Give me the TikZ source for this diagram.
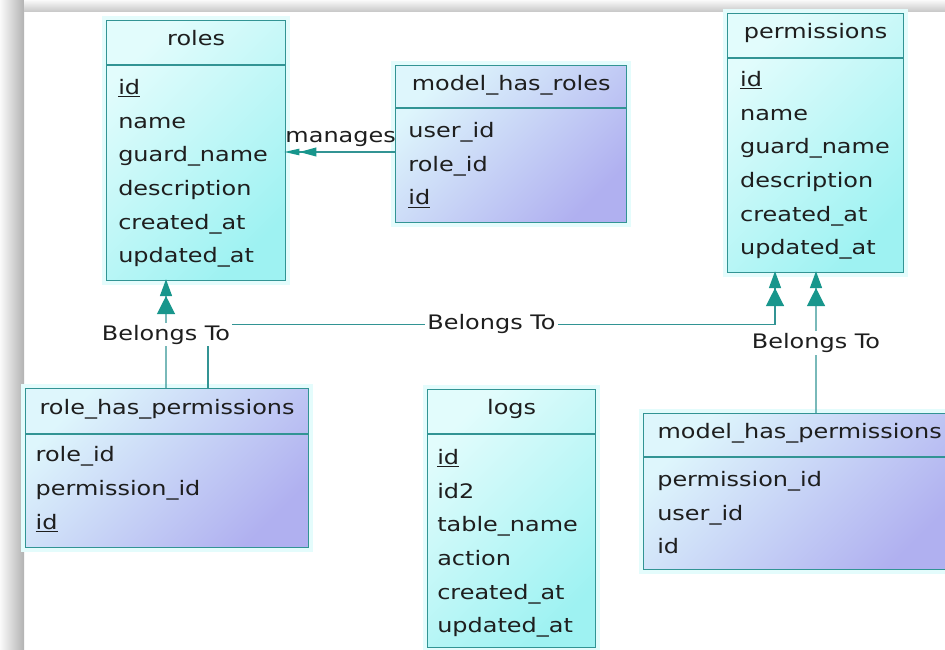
\documentclass[tikz,border=0pt]{standalone}
\usepackage{fontspec}
\usepackage{tikz}
\usepackage{xcolor}
\usetikzlibrary{arrows.meta, positioning, calc}

\newfontfamily\erfont[FakeStretch=1.2]{DejaVu Sans}
\newcommand{\ertext}{\erfont\fontsize{14.2pt}{23.97pt}\selectfont}

\definecolor{erline}{RGB}{50,148,148}
\definecolor{erarrow}{RGB}{24,150,140}
\definecolor{entA}{RGB}{226,252,252}
\definecolor{entB}{RGB}{158,242,242}
\definecolor{lnkA}{RGB}{222,246,252}
\definecolor{lnkB}{RGB}{176,176,240}
\definecolor{ertxt}{RGB}{30,30,30}
\definecolor{glow}{RGB}{228,252,252}

\tikzset{
  erbox/.style={draw=erline, line width=0.9pt, anchor=north west, inner sep=0pt,
      preaction={draw=glow, line width=6pt}},
  entity/.style={erbox, top color=entA, bottom color=entB, shading angle=45},
  assoc/.style={erbox, top color=lnkA, bottom color=lnkB, shading angle=45},
  sepline/.style={draw=erline, line width=0.9pt},
  tblhead/.style={font=\ertext, text=ertxt, text height=1.6ex, text depth=.45ex, inner sep=0pt},
  fields/.style={font=\ertext, text=ertxt, align=left, anchor=north west, inner sep=0pt},
  rel/.style={draw=erline, line width=0.9pt},
  tomany/.style={-{Triangle[length=0.45cm,width=0.45cm,color=erarrow]
      Triangle[length=0.42cm,width=0.3cm,sep=-0.05cm,color=erarrow]}},
  tomanyh/.style={-{Triangle[length=0.42cm,width=0.22cm,color=erarrow]
      Triangle[length=0.38cm,width=0.16cm,sep=-0.05cm,color=erarrow]}},
  lbl/.style={font=\ertext, text=ertxt, fill=white, inner sep=1.5pt}
}

\begin{document}
\begin{tikzpicture}
\useasboundingbox (0,0) rectangle (23.625,16.225);
\clip (0,0) rectangle (23.625,16.225);
\fill[white] (0,0) rectangle (23.625,16.225);

% window frame
\shade[left color=gray!4, right color=gray!60] (0,0) rectangle (0.6,16.225);
\shade[top color=gray!4, bottom color=gray!45] (0.6,15.925) rectangle (23.625,16.225);

% roles
\node[entity, minimum width=4.475cm, minimum height=6.5cm] (roles) at (2.65,15.725) {};
\draw[sepline] ($(roles.north west)+(0,-1.125)$) -- ($(roles.north east)+(0,-1.125)$);
\node[tblhead] (roles-t) at ($(roles.north)+(0,-0.5625)$) {roles};
\node[fields] (roles-f) at ($(roles.north west)+(0.3,-1.475)$)
    {\underline{id}\\name\\guard\_name\\description\\created\_at\\updated\_at};

% model_has_roles
\node[assoc, minimum width=5.775cm, minimum height=3.925cm] (mhr) at (9.875,14.6) {};
\draw[sepline] ($(mhr.north west)+(0,-1.075)$) -- ($(mhr.north east)+(0,-1.075)$);
\node[tblhead] (mhr-t) at ($(mhr.north)+(0,-0.54)$) {model\_has\_roles};
\node[fields] (mhr-f) at ($(mhr.north west)+(0.33,-1.425)$)
    {user\_id\\role\_id\\\underline{id}};

% permissions
\node[entity, minimum width=4.4cm, minimum height=6.475cm] (perms) at (18.175,15.9) {};
\draw[sepline] ($(perms.north west)+(0,-1.125)$) -- ($(perms.north east)+(0,-1.125)$);
\node[tblhead] (perms-t) at ($(perms.north)+(0,-0.5625)$) {permissions};
\node[fields] (perms-f) at ($(perms.north west)+(0.32,-1.45)$)
    {\underline{id}\\name\\guard\_name\\description\\created\_at\\updated\_at};

% role_has_permissions
\node[assoc, minimum width=7.075cm, minimum height=3.975cm] (rhp) at (0.625,6.525) {};
\draw[sepline] ($(rhp.north west)+(0,-1.15)$) -- ($(rhp.north east)+(0,-1.15)$);
\node[tblhead] (rhp-t) at ($(rhp.north)+(0,-0.575)$) {role\_has\_permissions};
\node[fields] (rhp-f) at ($(rhp.north west)+(0.26,-1.46)$)
    {role\_id\\permission\_id\\\underline{id}};

% logs
\node[entity, minimum width=4.2cm, minimum height=6.45cm] (logs) at (10.675,6.5) {};
\draw[sepline] ($(logs.north west)+(0,-1.125)$) -- ($(logs.north east)+(0,-1.125)$);
\node[tblhead] (logs-t) at ($(logs.north)+(0,-0.5625)$) {logs};
\node[fields] (logs-f) at ($(logs.north west)+(0.25,-1.5)$)
    {\underline{id}\\id2\\table\_name\\action\\created\_at\\updated\_at};

% model_has_permissions
\node[assoc, minimum width=7.8cm, minimum height=3.9cm] (mhp) at (16.075,5.9) {};
\draw[sepline] ($(mhp.north west)+(0,-1.1)$) -- ($(mhp.north east)+(0,-1.1)$);
\node[tblhead] (mhp-t) at ($(mhp.north)+(0,-0.55)$) {model\_has\_permissions};
\node[fields] (mhp-f) at ($(mhp.north west)+(0.35,-1.45)$)
    {permission\_id\\user\_id\\id};

% relations
\draw[rel, tomanyh] ($(mhr.north west)+(0,-2.175)$) -- ($(roles.north east)+(0,-3.3)$)
    node[midway, above, font=\ertext, text=ertxt] (mng) {manages};
\draw[rel, tomany] ($(rhp.north west)+(4.575,0)$) |- ($(perms.south west)+(1.2,-1.275)$)
    node[lbl, pos=0.75] (bt2) {Belongs To} -- ($(perms.south west)+(1.2,0)$);
\draw[rel, tomany] ($(rhp.north west)+(3.525,0)$) -- ($(roles.south west)+(1.5,0)$)
    node[lbl, midway] (bt1) {Belongs To};
\draw[rel, tomany] ($(mhp.north west)+(4.325,0)$) -- ($(perms.south west)+(2.225,0)$)
    node[lbl, midway] (bt3) {Belongs To};
\end{tikzpicture}
\end{document}
